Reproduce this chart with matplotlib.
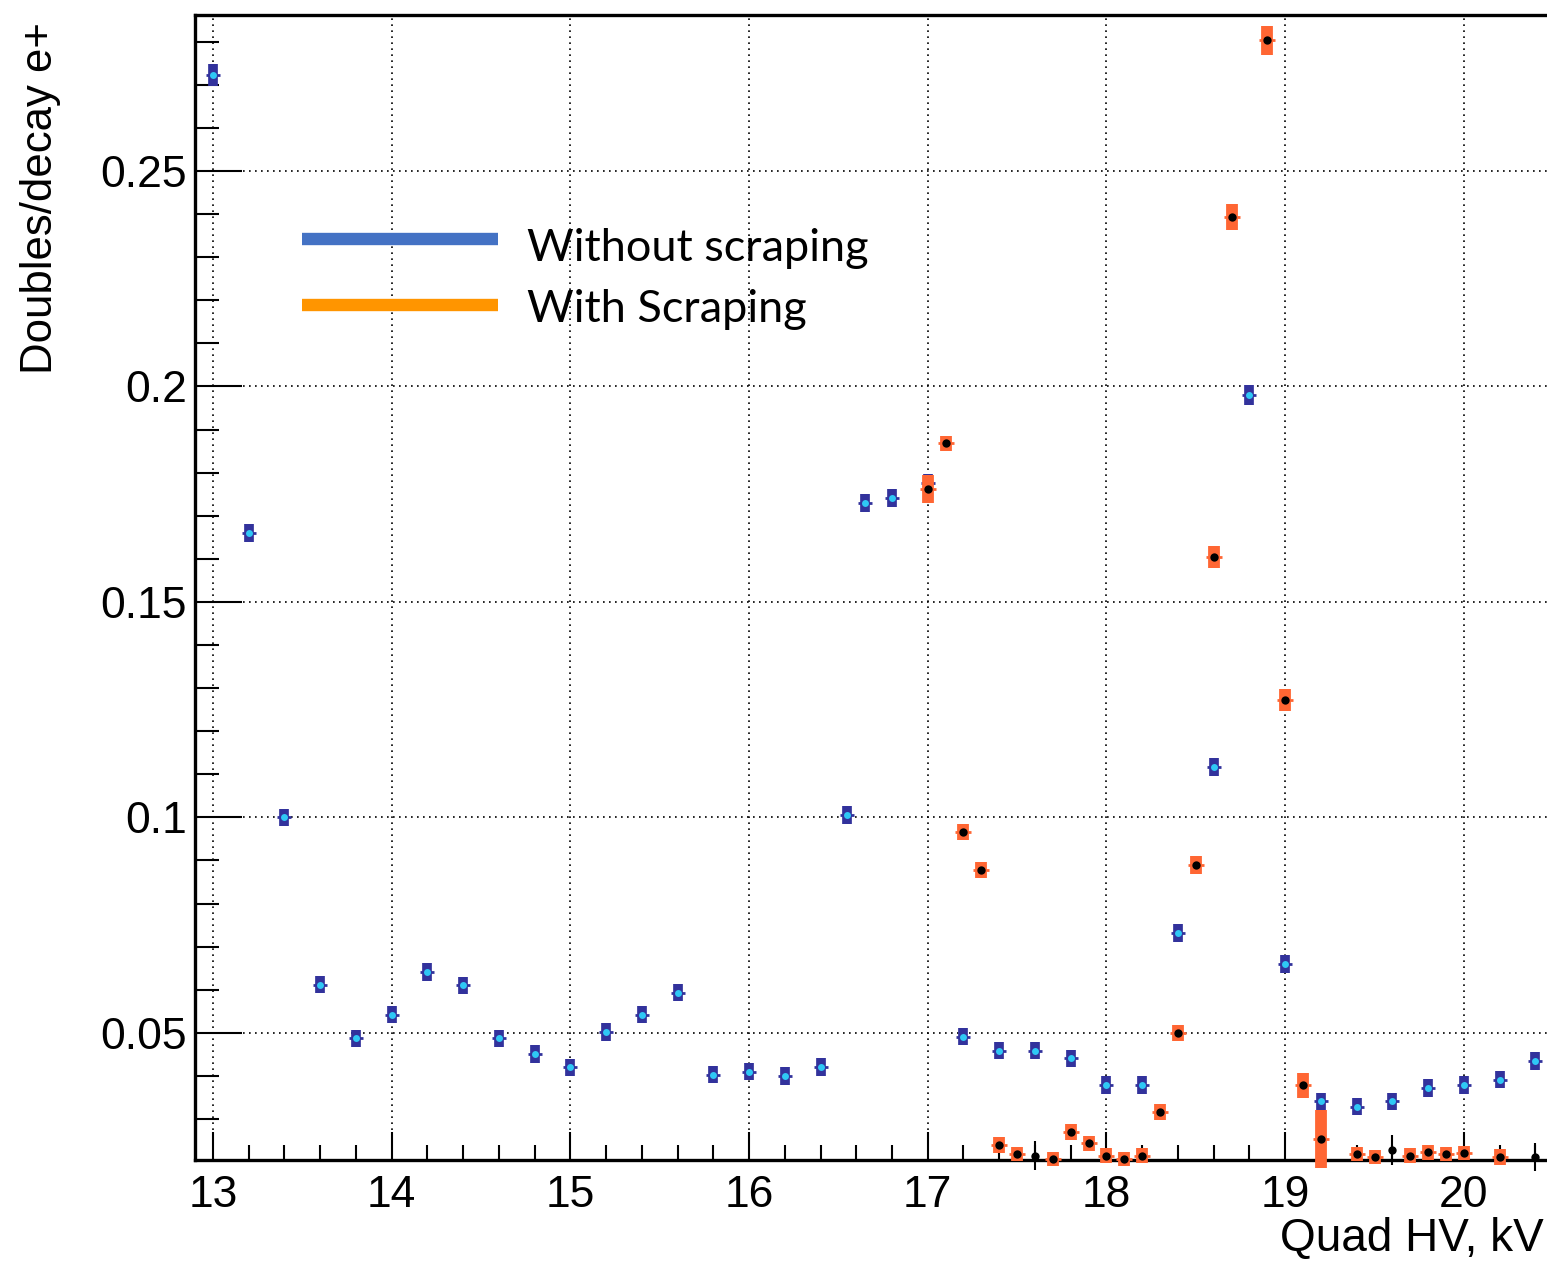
import matplotlib
matplotlib.use("Agg")
import matplotlib.pyplot as plt
from matplotlib.lines import Line2D
from matplotlib.ticker import FixedLocator, FuncFormatter

# without scraping (blue)
hv_blue = [13.0, 13.2, 13.4, 13.6, 13.8, 14.0, 14.2, 14.4, 14.6, 14.8, 15.0,
           15.2, 15.4, 15.6, 15.8, 16.0, 16.2, 16.4, 16.55, 16.65, 16.8, 17.0,
           17.2, 17.4, 17.6, 17.8, 18.0, 18.2, 18.4, 18.6, 18.8, 19.0, 19.2,
           19.4, 19.6, 19.8, 20.0, 20.2, 20.4]
doubles_blue = [0.2723, 0.166, 0.100, 0.0612, 0.0487, 0.0542, 0.0641, 0.0610,
                0.0487, 0.0451, 0.0420, 0.0502, 0.0542, 0.0593, 0.0403, 0.0410,
                0.0400, 0.0421, 0.1006, 0.1730, 0.1741, 0.1775, 0.0491, 0.0459,
                0.0459, 0.0441, 0.0379, 0.0379, 0.0732, 0.1117, 0.1980, 0.0660,
                0.0341, 0.0329, 0.0341, 0.0372, 0.0379, 0.0391, 0.0435]
err_blue = [0.0025, 0.0021, 0.002, 0.002, 0.002, 0.002, 0.002, 0.002,
            0.002, 0.002, 0.002, 0.002, 0.002, 0.002, 0.002, 0.002,
            0.002, 0.002, 0.0021, 0.0021, 0.0021, 0.0021, 0.002, 0.002,
            0.002, 0.002, 0.002, 0.002, 0.0021, 0.0021, 0.0023, 0.0021,
            0.002, 0.002, 0.002, 0.002, 0.002, 0.002, 0.002]

# with scraping (orange)
hv_orange = [17.0, 17.1, 17.2, 17.3, 17.4, 17.5, 17.7, 17.8, 17.9, 18.0, 18.1,
             18.2, 18.3, 18.4, 18.5, 18.6, 18.7, 18.9, 19.0, 19.1, 19.2, 19.4,
             19.5, 19.7, 19.8, 19.9, 20.0, 20.2]
doubles_orange = [0.1762, 0.1868, 0.0966, 0.0878, 0.0240, 0.0219, 0.0207,
                  0.0270, 0.0244, 0.0215, 0.0208, 0.0215, 0.0316, 0.0499,
                  0.0890, 0.1604, 0.2393, 0.2803, 0.1273, 0.0378, 0.0253,
                  0.0219, 0.0212, 0.0215, 0.0223, 0.0219, 0.0221, 0.0212]
err_orange = [0.0033, 0.0018, 0.0018, 0.0019, 0.0018, 0.0017, 0.0016,
              0.0018, 0.0017, 0.0017, 0.0016, 0.0017, 0.0018, 0.0019,
              0.0021, 0.0026, 0.0031, 0.0034, 0.0026, 0.0028, 0.0067,
              0.0017, 0.0017, 0.0017, 0.0017, 0.0017, 0.0017, 0.0018]

# points with only a thin black bar
hv_black = [17.6, 19.6, 20.4]
doubles_black = [0.0215, 0.0229, 0.0212]
err_black = [0.0033, 0.0035, 0.0033]

x_ticks = [13, 14, 15, 16, 17, 18, 19, 20]
y_ticks = [0.05, 0.1, 0.15, 0.2, 0.25]

W, H = 1547, 1261
fig = plt.figure(figsize=(W / 100, H / 100), dpi=100)
ax = fig.add_axes([195 / W, 101 / H, (W - 195) / W, (1160 - 15) / H])

dark_blue = "#32329c"
cyan = "#2fc8f5"
orange = "#ff6633"

ax.errorbar(hv_blue, doubles_blue, yerr=err_blue, fmt="none", ecolor=dark_blue,
            elinewidth=7, capsize=0, zorder=3)
ax.plot(hv_blue, doubles_blue, "_", ms=10.5, mew=2, color=dark_blue, zorder=4)
ax.plot(hv_blue, doubles_blue, "o", ms=5, color=cyan, mec="none", zorder=5)

ax.errorbar(hv_black, doubles_black, yerr=err_black, fmt="none", ecolor="black",
            elinewidth=1.5, capsize=0, zorder=3, clip_on=False)

ax.errorbar(hv_orange, doubles_orange, yerr=err_orange, fmt="none", ecolor=orange,
            elinewidth=8.5, capsize=0, zorder=6, clip_on=False)
ax.plot(hv_orange, doubles_orange, "_", ms=12, mew=2, color=orange, zorder=7,
        clip_on=False)
ax.plot(hv_orange + hv_black, doubles_orange + doubles_black, "o", ms=6,
        color="black", mec="none", zorder=8, clip_on=False)

ax.set_xlim(12.9, 20.465)
ax.set_ylim(0.0205, 0.2862)

ax.xaxis.set_major_locator(FixedLocator(x_ticks))
ax.xaxis.set_minor_locator(FixedLocator([13 + 0.2 * i for i in range(38) if i % 5]))
ax.yaxis.set_major_locator(FixedLocator(y_ticks))
ax.yaxis.set_minor_locator(FixedLocator([0.01 * i for i in range(3, 29) if i % 5]))
ax.yaxis.set_major_formatter(FuncFormatter(lambda v, p: "%g" % v))

ax.tick_params(axis="both", which="both", direction="in", width=1.5,
               labelsize=32, colors="black")
ax.tick_params(axis="y", which="major", length=34, pad=6)
ax.tick_params(axis="y", which="minor", length=17)
ax.tick_params(axis="x", which="major", length=20, pad=11)
ax.tick_params(axis="x", which="minor", length=11)
for lab in ax.get_xticklabels() + ax.get_yticklabels():
    lab.set_family("Liberation Sans")

ax.grid(True, which="major", color="black", linestyle=(0, (1, 2.6)), linewidth=1.2)
ax.set_axisbelow(True)

for s in ["left", "bottom", "top"]:
    ax.spines[s].set_linewidth(2.4)
ax.spines["right"].set_visible(False)

fig.text(20 / W, 1 - 22 / H, "Doubles/decay e+", rotation=90, ha="left",
         va="top", fontsize=31.5, family="Liberation Sans")
fig.text(1544 / W, (H - 1251) / H, "Quad HV, kV", ha="right", va="baseline",
         fontsize=33, family="Liberation Sans")

# legend drawn by hand like in the slide
fig.add_artist(Line2D([302 / W, 498 / W], [1 - 239 / H, 1 - 239 / H],
                      color="#4472c4", lw=8.9, solid_capstyle="butt"))
fig.add_artist(Line2D([302 / W, 498 / W], [1 - 304.5 / H, 1 - 304.5 / H],
                      color="#ff9500", lw=8.9, solid_capstyle="butt"))
fig.text(527 / W, 1 - 261 / H, "Without scraping", ha="left", va="baseline",
         fontsize=32.5, family="Lato")
fig.text(527 / W, 1 - 322 / H, "With Scraping", ha="left", va="baseline",
         fontsize=32.5, family="Lato")

fig.savefig("out.png", dpi=100, facecolor="white")
